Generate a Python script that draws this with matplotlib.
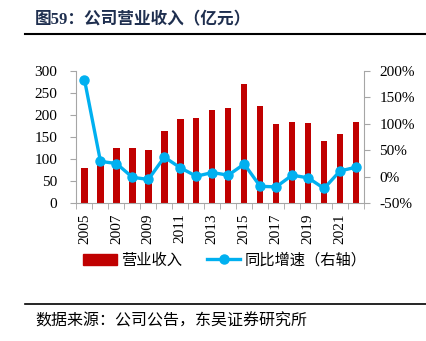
import numpy as np
import matplotlib
matplotlib.use("Agg")
import matplotlib.pyplot as plt
from matplotlib.lines import Line2D
from matplotlib.patches import Patch
from matplotlib.ticker import FuncFormatter

# Company revenue (100 million yuan) and YoY growth (%)
years = [2005, 2006, 2007, 2008, 2009, 2010, 2011, 2012, 2013,
         2014, 2015, 2016, 2017, 2018, 2019, 2020, 2021, 2022]
revenue = [79, 101, 126, 125, 120, 163, 191, 194, 210,
           216, 270, 220, 179, 185, 181, 142, 156, 184]
growth = [183, 29, 25, -1, -5, 37, 17, 1, 8,
          3, 24, -18, -19, 3, -2, -22, 11, 18]

title = "图59：公司营业收入（亿元）"
source = "数据来源：公司公告，东吴证券研究所"
bar_label = "营业收入"
line_label = "同比增速（右轴）"

BAR_COLOR = "#C00000"
LINE_COLOR = "#00B0F0"
AXIS_GRAY = "#A6A6A6"
NUM_FONT = ["Liberation Serif", "Noto Sans CJK SC"]
CJK_FONT = ["Noto Sans CJK SC", "DejaVu Sans"]

W, H = 427, 341
fig = plt.figure(figsize=(W / 100, H / 100), dpi=100)

ax = fig.add_axes([76.5 / W, 1 - 203.3 / H, (364 - 76.5) / W, (203.3 - 70.7) / H])
x = np.arange(len(years))
ax.bar(x, revenue, width=0.4, color=BAR_COLOR, zorder=2)
ax.set_xlim(-0.5, len(years) - 0.5)
ax.set_ylim(0, 300)
ax.set_yticks(range(0, 301, 50))
ax.set_xticks(x[::2])
ax.set_xticklabels([str(y) for y in years[::2]], rotation=90)
ax.set_xticks(np.arange(-0.5, len(years), 1), minor=True)
ax.tick_params(axis="x", which="major", length=0, pad=7)
ax.tick_params(axis="x", which="minor", length=4, color=AXIS_GRAY)
ax.tick_params(axis="y", length=4, color=AXIS_GRAY, pad=10)
for lab in ax.get_xticklabels() + ax.get_yticklabels():
    lab.set_family(NUM_FONT)
    lab.set_fontsize(11)
for side in ("top", "right"):
    ax.spines[side].set_visible(False)
for side in ("left", "bottom"):
    ax.spines[side].set_color(AXIS_GRAY)

ax2 = ax.twinx()
ax2.plot(x, growth, color=LINE_COLOR, lw=2.4, marker="o", ms=6.5, zorder=3)
ax2.set_ylim(-50, 200)
ax2.set_yticks(range(-50, 201, 50))
ax2.yaxis.set_major_formatter(FuncFormatter(lambda v, _: f"{int(v)}%"))
ax2.tick_params(axis="y", length=4, color=AXIS_GRAY, pad=7)
for lab in ax2.get_yticklabels():
    lab.set_family(NUM_FONT)
    lab.set_fontsize(11)
for side in ("top", "left", "bottom"):
    ax2.spines[side].set_visible(False)
ax2.spines["right"].set_color(AXIS_GRAY)

handles = [Patch(color=BAR_COLOR),
           Line2D([0], [0], color=LINE_COLOR, lw=2.4, marker="o", ms=6.5)]
fig.legend(handles, [bar_label, line_label], loc="center",
           bbox_to_anchor=(225 / W, 1 - 260 / H), ncol=2, frameon=False,
           handlelength=2.2, handletextpad=0.3, columnspacing=1.6,
           prop={"family": CJK_FONT, "size": 11})

fig.text(35 / W, 1 - 20 / H, title, family=NUM_FONT, fontsize=12,
         fontweight="bold", color="#1F2F4F", va="center", ha="left")
fig.add_artist(Line2D([25 / W, 1], [1 - 33.5 / H] * 2, color="black", lw=1.5))
fig.add_artist(Line2D([25 / W, 1], [1 - 304 / H] * 2, color="black", lw=1.2))
fig.text(35 / W, 1 - 321 / H, source, family=CJK_FONT, fontsize=11.5,
         color="black", va="center", ha="left")

fig.savefig("out.png", dpi=100, facecolor="white")
